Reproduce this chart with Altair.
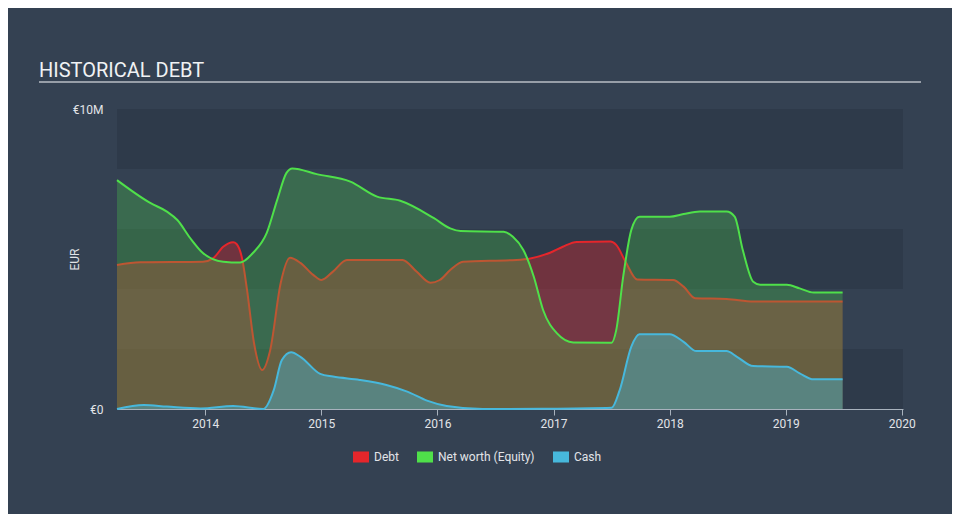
import altair as alt
import pandas as pd

# ---- data (values in EUR millions, x in decimal years) ----
debt_year = [2013.24, 2013.44, 2013.98, 2014.07, 2014.155, 2014.24, 2014.27, 2014.32, 2014.36, 2014.42,
             2014.49, 2014.56, 2014.65, 2014.73, 2014.82, 2014.93, 2015.0, 2015.10, 2015.22, 2015.70,
             2015.82, 2015.94, 2016.02, 2016.11, 2016.22, 2016.68, 2016.80, 2016.97, 2017.08, 2017.20,
             2017.49, 2017.54, 2017.62, 2017.72, 2018.03, 2018.12, 2018.22, 2018.49, 2018.72, 2019.49]
debt_val = [4.80, 4.89, 4.91, 5.03, 5.41, 5.56, 5.50, 4.97, 3.97, 2.20,
            1.30, 1.97, 4.20, 5.04, 4.87, 4.47, 4.30, 4.58, 4.97, 4.97,
            4.58, 4.21, 4.30, 4.63, 4.91, 4.97, 5.02, 5.21, 5.41, 5.57,
            5.58, 5.47, 4.91, 4.32, 4.30, 4.08, 3.69, 3.67, 3.58, 3.58]

equity_year = [2013.24, 2013.53, 2013.67, 2013.76, 2013.87, 2013.98, 2014.155, 2014.30, 2014.41, 2014.53,
               2014.62, 2014.70, 2014.75, 2014.96, 2015.25, 2015.48, 2015.68, 2015.97, 2016.11, 2016.20,
               2016.57, 2016.65, 2016.74, 2016.83, 2016.91, 2017.03, 2017.17, 2017.50, 2017.54, 2017.60,
               2017.67, 2017.74, 2018.00, 2018.12, 2018.26, 2018.49, 2018.56, 2018.63, 2018.72, 2018.78,
               2019.01, 2019.12, 2019.24, 2019.49]
equity_val = [7.63, 6.86, 6.58, 6.30, 5.70, 5.20, 4.91, 4.88, 5.20, 5.87,
              6.97, 7.87, 8.02, 7.83, 7.58, 7.08, 6.94, 6.36, 6.02, 5.93,
              5.91, 5.74, 5.30, 4.41, 3.30, 2.52, 2.22, 2.21, 2.63, 4.41,
              5.97, 6.41, 6.41, 6.50, 6.58, 6.58, 6.41, 5.30, 4.24, 4.14,
              4.14, 4.02, 3.88, 3.88]

cash_year = [2013.24, 2013.47, 2013.67, 2013.96, 2014.24, 2014.50, 2014.59, 2014.66, 2014.74, 2014.82,
             2014.99, 2015.10, 2015.33, 2015.56, 2015.74, 2015.91, 2016.08, 2016.39, 2016.97, 2017.50,
             2017.57, 2017.67, 2017.74, 2018.00, 2018.12, 2018.23, 2018.49, 2018.58, 2018.72, 2019.01,
             2019.12, 2019.24, 2019.49]
cash_val = [0.00, 0.13, 0.08, 0.02, 0.10, 0.00, 0.63, 1.63, 1.89, 1.74,
            1.17, 1.08, 0.97, 0.80, 0.58, 0.28, 0.10, 0.00, 0.01, 0.04,
            0.63, 2.08, 2.49, 2.49, 2.24, 1.93, 1.93, 1.74, 1.43, 1.41,
            1.19, 0.99, 0.99]

series_names = ["Debt", "Net worth (Equity)", "Cash"]
series_colors = ["#e5262b", "#4fe04a", "#47b8dc"]

band_lo = [0, 4, 8]
band_hi = [2, 6, 10]
year_ticks = [2014, 2015, 2016, 2017, 2018, 2019, 2020]
y_ticks = [0, 10]

# ---- build table ----
df = pd.concat([
    pd.DataFrame({"series": "Debt", "year": debt_year, "value": debt_val}),
    pd.DataFrame({"series": "Net worth (Equity)", "year": equity_year, "value": equity_val}),
    pd.DataFrame({"series": "Cash", "year": cash_year, "value": cash_val}),
], ignore_index=True)

W, H = 786, 300
BG = "#344152"
TXT = "#e2e4e8"
AXC = "#a8b2bd"

xscale = alt.Scale(domain=[2013.24, 2020.01], nice=False, zero=False)
yscale = alt.Scale(domain=[0, 10], nice=False, zero=True)
cscale = alt.Scale(domain=series_names, range=series_colors)

x_axis = alt.Axis(values=year_ticks, format="d", title=None, grid=False,
                  domainColor=AXC, tickColor=AXC, tickSize=6, labelPadding=3,
                  labelColor=TXT, labelFontSize=12)
y_axis = alt.Axis(values=y_ticks, labelExpr="datum.value == 0 ? '€0' : '€10M'",
                  title="EUR", titleColor=TXT, titleFontSize=12, titleFontWeight="normal",
                  titleX=-39, titleY=150, titleAngle=-90, titleAlign="center",
                  titleBaseline="alphabetic",
                  grid=False, domain=False, ticks=False, labelPadding=14,
                  labelColor=TXT, labelFontSize=12)

legend = alt.Legend(orient="none", legendX=236, legendY=340, direction="horizontal",
                    title=None, symbolType="M-1,-0.69L1,-0.69L1,0.69L-1,0.69Z",
                    symbolSize=256, symbolOpacity=1, symbolStrokeWidth=0,
                    labelColor=TXT, labelFontSize=12, labelOffset=5, columnPadding=18)

X = alt.X("year:Q", scale=xscale, axis=x_axis)
Y = alt.Y("value:Q", scale=yscale, axis=y_axis)
C = alt.Color("series:N", scale=cscale, legend=legend)

bands = alt.Chart(pd.DataFrame({"lo": band_lo, "hi": band_hi})).mark_rect(
    color="#2e3a4a").encode(
    x=alt.value(0), x2=alt.value(W),
    y=alt.Y("lo:Q", scale=yscale, axis=y_axis), y2="hi:Q")

base = alt.Chart(df)


def area(name, op):
    return base.transform_filter(alt.datum.series == name).mark_area(
        interpolate="monotone", opacity=op).encode(x=X, y=Y, color=C)


def line(name):
    return base.transform_filter(alt.datum.series == name).mark_line(
        interpolate="monotone", strokeWidth=2).encode(x=X, y=Y, color=C)


layers = [
    bands,
    area("Debt", 0.36), line("Debt"),
    area("Net worth (Equity)", 0.26), line("Net worth (Equity)"),
    area("Cash", 0.4), line("Cash"),
]

title = alt.Chart(pd.DataFrame({"t": ["HISTORICAL DEBT"]})).mark_text(
    align="left", baseline="alphabetic", fontSize=20, color="#f0f2f4", font="Roboto").encode(
    x=alt.value(-78), y=alt.value(-32), text="t:N")

underline = alt.Chart(pd.DataFrame({"t": [1]})).mark_rule(
    color="#b8bec6", strokeWidth=1.5).encode(
    x=alt.value(-78), x2=alt.value(804), y=alt.value(-27))

chart = alt.layer(*layers, title, underline).properties(
    width=W, height=H,
    autosize="none",
    padding={"left": 109, "top": 101, "right": 49, "bottom": 105},
).configure(background=BG, font="Roboto").configure_view(stroke=None)

chart.save("out.html", embed_options={"renderer": "svg", "actions": False})
